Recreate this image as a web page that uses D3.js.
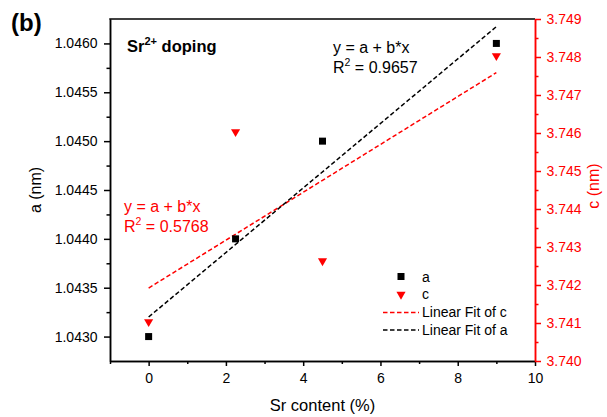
<!DOCTYPE html>
<html>
<head>
<meta charset="utf-8">
<script src="https://cdn.jsdelivr.net/npm/d3@7"></script>
<style>
  html, body { margin: 0; padding: 0; background: #fff; }
  svg { display: block; font-family: "Liberation Sans", Arial, sans-serif; }
</style>
</head>
<body>
<svg id="chart" width="607" height="417"></svg>
<script>
// Sr content (%) and the measured lattice parameters
const srContent = [0, 2.25, 4.5, 9];
const latticeA = [1.0430, 1.0440, 1.0450, 1.0460];
const latticeC = [3.7410, 3.7460, 3.7426, 3.7480];

// Axis ticks
const xTicks = [0, 2, 4, 6, 8, 10];
const xMinor = [-1, 1, 3, 5, 7, 9];
const aTicks = [1.0430, 1.0435, 1.0440, 1.0445, 1.0450, 1.0455, 1.0460];
const aMinor = [1.04325, 1.04375, 1.04425, 1.04475, 1.04525, 1.04575];
const cTicks = [3.740, 3.741, 3.742, 3.743, 3.744, 3.745, 3.746, 3.747, 3.748, 3.749];
const cMinor = [3.7405, 3.7415, 3.7425, 3.7435, 3.7445, 3.7455, 3.7465, 3.7475, 3.7485];

// Reported goodness of fit
const r2A = "0.9657";
const r2C = "0.5768";

const RED = "#ff0000";
const svg = d3.select("#chart");
const plotLeft = 110, plotRight = 535, plotTop = 19, plotBottom = 361;

const x = d3.scaleLinear([-1, 10], [plotLeft, plotRight]);
const yA = d3.scaleLinear([1.04275, 1.04625], [plotBottom, plotTop]);
const yC = d3.scaleLinear([3.740, 3.749], [plotBottom, plotTop]);

// Least-squares line through (xs, ys)
function linearFit(xs, ys) {
  const mx = d3.mean(xs), my = d3.mean(ys);
  let sxy = 0, sxx = 0;
  xs.forEach((v, i) => { sxy += (v - mx) * (ys[i] - my); sxx += (v - mx) ** 2; });
  const b = sxy / sxx;
  return { a: my - b * mx, b };
}

// ---- axes ----
function styleAxis(g, color, size) {
  g.select(".domain").attr("stroke", color).attr("stroke-width", 1.5);
  g.selectAll(".tick line").attr("stroke", color).attr("stroke-width", 1.5);
  g.selectAll(".tick text").attr("fill", color).attr("font-size", size)
    .attr("font-family", "'Liberation Sans', Arial, sans-serif");
}

// bottom
svg.append("g").attr("transform", `translate(0,${plotBottom})`)
  .call(d3.axisBottom(x).tickValues(xTicks).tickSize(5).tickSizeOuter(0).tickPadding(7.5).tickFormat(d3.format("d")))
  .call(g => styleAxis(g, "#000", 14));
svg.append("g").attr("transform", `translate(0,${plotBottom})`)
  .call(d3.axisBottom(x).tickValues(xMinor).tickSize(3).tickSizeOuter(0).tickFormat(""))
  .call(g => styleAxis(g, "#000", 14));

// left
svg.append("g").attr("transform", `translate(${plotLeft},0)`)
  .call(d3.axisLeft(yA).tickValues(aTicks).tickSize(6).tickSizeOuter(0).tickPadding(6.5).tickFormat(d3.format(".4f")))
  .call(g => styleAxis(g, "#000", 14));
svg.append("g").attr("transform", `translate(${plotLeft},0)`)
  .call(d3.axisLeft(yA).tickValues(aMinor).tickSize(3.5).tickSizeOuter(0).tickFormat(""))
  .call(g => styleAxis(g, "#000", 14));

// top border
svg.append("line").attr("x1", plotLeft - 0.75).attr("x2", plotRight).attr("y1", plotTop).attr("y2", plotTop)
  .attr("stroke", "#000").attr("stroke-width", 1.5);

// right (red)
svg.append("g").attr("transform", `translate(${plotRight},0)`)
  .call(d3.axisRight(yC).tickValues(cTicks).tickSize(6).tickSizeOuter(0).tickPadding(5.5).tickFormat(d3.format(".3f")))
  .call(g => styleAxis(g, RED, 14));
svg.append("g").attr("transform", `translate(${plotRight},0)`)
  .call(d3.axisRight(yC).tickValues(cMinor).tickSize(3.5).tickSizeOuter(0).tickFormat(""))
  .call(g => styleAxis(g, RED, 14));

// axis titles
svg.append("text").attr("x", (plotLeft + plotRight) / 2).attr("y", 411)
  .attr("text-anchor", "middle").attr("font-size", 16.5).text("Sr content (%)");
svg.append("text").attr("transform", `translate(41,190) rotate(-90)`)
  .attr("text-anchor", "middle").attr("font-size", 16).text("a (nm)");
svg.append("text").attr("transform", `translate(598.5,186) rotate(-90)`)
  .attr("text-anchor", "middle").attr("font-size", 16).attr("fill", RED).text("c (nm)");

// panel label and heading
svg.append("text").attr("x", 11).attr("y", 31).attr("font-size", 24).attr("font-weight", "bold").text("(b)");
const head = svg.append("text").attr("x", 127).attr("y", 51.5).attr("font-size", 16.5).attr("font-weight", "bold");
head.append("tspan").text("Sr");
head.append("tspan").attr("font-size", 11).attr("dy", -7).text("2+");
head.append("tspan").attr("dy", 7).text(" doping");

// ---- fit lines ----
const fitA = linearFit(srContent, latticeA);
const fitC = linearFit(srContent, latticeC);
const xr = d3.extent(srContent);

const lineA = d3.line().x(d => x(d)).y(d => yA(fitA.a + fitA.b * d));
const lineC = d3.line().x(d => x(d)).y(d => yC(fitC.a + fitC.b * d));

svg.append("path").attr("d", lineC(xr)).attr("fill", "none")
  .attr("stroke", RED).attr("stroke-width", 1.5).attr("stroke-dasharray", "4.5,2.5");
svg.append("path").attr("d", lineA(xr)).attr("fill", "none")
  .attr("stroke", "#000").attr("stroke-width", 1.5).attr("stroke-dasharray", "4.5,2.5");

// ---- data points ----
const sq = 7;
svg.append("g").selectAll("rect").data(srContent).join("rect")
  .attr("x", (d) => x(d) - sq / 2)
  .attr("y", (d, i) => yA(latticeA[i]) - sq / 2)
  .attr("width", sq).attr("height", sq).attr("fill", "#000");

const tri = d3.symbol(d3.symbolTriangle, 36);
svg.append("g").selectAll("path").data(srContent).join("path")
  .attr("d", tri)
  .attr("transform", (d, i) => `translate(${x(d)},${yC(latticeC[i]) - 1.2}) rotate(180)`)
  .attr("fill", RED);

// ---- fit equations ----
function equation(px, py, r2, color) {
  svg.append("text").attr("x", px).attr("y", py).attr("font-size", 16).attr("fill", color).text("y = a + b*x");
  const t = svg.append("text").attr("x", px).attr("y", py + 20.8).attr("font-size", 16).attr("fill", color);
  t.append("tspan").text("R");
  t.append("tspan").attr("font-size", 10.5).attr("dy", -7).text("2");
  t.append("tspan").attr("dy", 7).text(" = " + r2);
}
equation(333, 52.5, r2A, "#000");
equation(124, 211.5, r2C, RED);

// ---- legend ----
const lg = svg.append("g").attr("font-size", 14);
lg.append("rect").attr("x", 401 - sq / 2).attr("y", 276.5 - sq / 2).attr("width", sq).attr("height", sq).attr("fill", "#000");
lg.append("text").attr("x", 422).attr("y", 281.5).text("a");
lg.append("path").attr("d", tri).attr("transform", "translate(401,294.5) rotate(180)").attr("fill", RED);
lg.append("text").attr("x", 422).attr("y", 299).text("c");
lg.append("line").attr("x1", 383).attr("x2", 419).attr("y1", 312.5).attr("y2", 312.5)
  .attr("stroke", RED).attr("stroke-width", 1.5).attr("stroke-dasharray", "4.5,2.5");
lg.append("text").attr("x", 422).attr("y", 317).text("Linear Fit of c");
lg.append("line").attr("x1", 383).attr("x2", 419).attr("y1", 330).attr("y2", 330)
  .attr("stroke", "#000").attr("stroke-width", 1.5).attr("stroke-dasharray", "4.5,2.5");
lg.append("text").attr("x", 422).attr("y", 334.5).text("Linear Fit of a");
</script>
</body>
</html>
